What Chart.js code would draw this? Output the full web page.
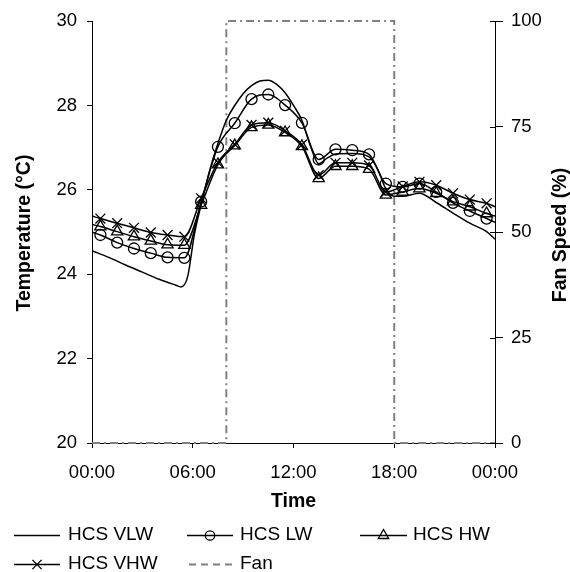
<!DOCTYPE html>
<html>
<head>
<meta charset="utf-8">
<script src="https://cdn.jsdelivr.net/npm/chart.js@4.4.1/dist/chart.umd.min.js"></script>
<style>
  html, body { margin: 0; padding: 0; background: #fff; }
  canvas { display: block; }
</style>
</head>
<body>
<canvas id="chart" width="570" height="572"></canvas>
<script>
// Hours of day for the marked series (markers on the half hours, line ends at 00:00 and 24:00)
const markerHours = [0, 0.5, 1.5, 2.5, 3.5, 4.5, 5.5, 6.5, 7.5, 8.5, 9.5, 10.5, 11.5, 12.5,
                     13.5, 14.5, 15.5, 16.5, 17.5, 18.5, 19.5, 20.5, 21.5, 22.5, 23.5, 24];

// Room temperature (°C) for each heavy-weight construction case
const lwTemps  = [25.00, 24.93, 24.75, 24.61, 24.50, 24.40, 24.39, 25.72, 27.02, 27.58, 28.15, 28.26, 28.01,
                  27.59, 26.72, 26.96, 26.94, 26.84, 26.15, 26.07, 26.15, 25.95, 25.69, 25.50, 25.32, 25.23];
const hwTemps  = [25.18, 25.13, 25.01, 24.89, 24.79, 24.70, 24.69, 25.64, 26.60, 27.05, 27.48, 27.54, 27.36,
                  27.03, 26.27, 26.56, 26.56, 26.49, 25.88, 25.95, 26.03, 25.92, 25.72, 25.60, 25.44, 25.38];
const vhwTemps = [25.38, 25.32, 25.21, 25.10, 24.99, 24.93, 24.89, 25.80, 26.65, 27.08, 27.54, 27.59, 27.40,
                  27.07, 26.35, 26.64, 26.64, 26.58, 25.95, 26.08, 26.19, 26.11, 25.92, 25.77, 25.68, 25.60];

// The very-light-weight case is a plain line
const vlwHours = [0, 1, 2, 3, 4, 5, 5.3, 5.7, 6.1, 6.5, 7, 7.5, 8, 8.5, 9, 9.5, 10, 10.5, 11, 11.5, 12, 12.5,
                  13, 13.5, 14, 14.5, 15.5, 16.5, 17, 17.5, 18, 18.5, 19.5, 20.5, 21.5, 22.5, 23.5, 24];
const vlwTemps = [24.56, 24.40, 24.22, 24.05, 23.88, 23.74, 23.70, 23.95, 24.95, 25.65, 26.45, 27.10, 27.65,
                  28.00, 28.28, 28.47, 28.58, 28.60, 28.50, 28.30, 28.00, 27.65, 27.05, 26.62, 26.75, 26.85,
                  26.86, 26.78, 26.50, 26.02, 25.85, 25.85, 25.92, 25.70, 25.45, 25.21, 25.01, 24.83];

// Fan speed (%) schedule
const fanHours = [0, 8, 8, 18, 18, 24];
const fanSpeed = [0, 0, 100, 100, 0, 0];

// Axis tick labels
const xTickLabels = ['00:00', '06:00', '12:00', '18:00', '00:00'];

const FONT = '"Liberation Sans", Arial, Helvetica, sans-serif';
const FAN_GREY = '#808080';
const FAN_DASH = [8, 4, 2, 4];

const pts = (xs, ys) => xs.map((x, i) => ({ x: x, y: ys[i] }));
const endless = r => ctx => (ctx.dataIndex === 0 || ctx.dataIndex === markerHours.length - 1) ? 0 : r;

function markedSeries(label, temps, style, r) {
  return {
    label: label,
    data: pts(markerHours, temps),
    yAxisID: 'y',
    borderColor: '#000',
    borderWidth: 1.5,
    cubicInterpolationMode: 'monotone',
    pointStyle: style,
    pointRadius: endless(r),
    pointHoverRadius: endless(r),
    pointBorderColor: '#000',
    pointBackgroundColor: 'rgba(0,0,0,0)',
    pointBorderWidth: 1.3
  };
}

// Marker glyphs for the legend
function glyph(ctx, style, x, y, r) {
  ctx.beginPath();
  if (style === 'circle') {
    ctx.arc(x, y, r, 0, Math.PI * 2);
  } else if (style === 'triangle') {
    ctx.moveTo(x, y - r);
    ctx.lineTo(x + r * Math.sin(Math.PI / 3), y + r / 2);
    ctx.lineTo(x - r * Math.sin(Math.PI / 3), y + r / 2);
    ctx.closePath();
  } else if (style === 'crossRot') {
    const d = r * Math.SQRT1_2;
    ctx.moveTo(x - d, y - d); ctx.lineTo(x + d, y + d);
    ctx.moveTo(x - d, y + d); ctx.lineTo(x + d, y - d);
  }
  ctx.stroke();
}

const legendItems = [
  { text: 'HCS VLW', x1: 14, x2: 60,  tx: 68,  row: 0, style: null },
  { text: 'HCS LW',  x1: 187, x2: 233, tx: 240, row: 0, style: 'circle', r: 4.7 },
  { text: 'HCS HW',  x1: 360, x2: 407, tx: 413, row: 0, style: 'triangle', r: 6 },
  { text: 'HCS VHW', x1: 14, x2: 60,  tx: 68,  row: 1, style: 'crossRot', r: 6.5 },
  { text: 'Fan',     x1: 189, x2: 233, tx: 240, row: 1, fan: true }
];
const legendRows = [535, 564];

const decorations = {
  id: 'decorations',
  afterDraw(chart) {
    const ctx = chart.ctx;
    const y2 = chart.scales.y2;
    ctx.save();

    // inner half of the secondary-axis tick marks
    ctx.strokeStyle = '#000';
    ctx.lineWidth = 1;
    y2.ticks.forEach(t => {
      const py = Math.round(y2.getPixelForValue(t.value)) + 0.5;
      ctx.beginPath();
      ctx.moveTo(y2.left - 5, py);
      ctx.lineTo(y2.left, py);
      ctx.stroke();
    });

    // axis titles
    ctx.fillStyle = '#000';
    ctx.font = 'bold 19.5px ' + FONT;
    ctx.textAlign = 'center';
    ctx.textBaseline = 'middle';
    const area = chart.chartArea;
    ctx.fillText('Time', (area.left + area.right) / 2, 502);

    ctx.save();
    ctx.translate(25, (area.top + area.bottom) / 2 + 1);
    ctx.rotate(-Math.PI / 2);
    ctx.fillText('Temperature (°C)', 0, 0);
    ctx.restore();

    ctx.save();
    ctx.translate(561, (area.top + area.bottom) / 2 + 3);
    ctx.rotate(-Math.PI / 2);
    ctx.fillText('Fan Speed (%)', 0, 0);
    ctx.restore();

    // legend
    ctx.font = '19px ' + FONT;
    ctx.textAlign = 'left';
    legendItems.forEach(it => {
      const y = legendRows[it.row];
      ctx.beginPath();
      if (it.fan) {
        ctx.strokeStyle = FAN_GREY;
        ctx.lineWidth = 2;
        ctx.setLineDash([7, 5]);
      } else {
        ctx.strokeStyle = '#000';
        ctx.lineWidth = 1.5;
        ctx.setLineDash([]);
      }
      ctx.moveTo(it.x1, y + 0.5);
      ctx.lineTo(it.x2, y + 0.5);
      ctx.stroke();
      ctx.setLineDash([]);
      if (it.style) {
        ctx.strokeStyle = '#000';
        ctx.lineWidth = 1.3;
        glyph(ctx, it.style, (it.x1 + it.x2) / 2, y + 0.5, it.r);
      }
      ctx.fillStyle = '#000';
      ctx.fillText(it.text, it.tx, y);
    });

    ctx.restore();
  }
};

new Chart(document.getElementById('chart'), {
  type: 'line',
  data: {
    datasets: [
      {
        label: 'HCS VLW',
        data: pts(vlwHours, vlwTemps),
        yAxisID: 'y',
        borderColor: '#000',
        borderWidth: 1.5,
        cubicInterpolationMode: 'monotone',
        pointRadius: 0,
        pointHoverRadius: 0
      },
      markedSeries('HCS LW', lwTemps, 'circle', 5.5),
      markedSeries('HCS HW', hwTemps, 'triangle', 6.5),
      markedSeries('HCS VHW', vhwTemps, 'crossRot', 7),
      {
        label: 'Fan',
        data: pts(fanHours, fanSpeed),
        yAxisID: 'y2',
        borderColor: FAN_GREY,
        borderWidth: 2,
        borderDash: FAN_DASH,
        tension: 0,
        pointRadius: 0,
        pointHoverRadius: 0,
        clip: false
      }
    ]
  },
  options: {
    responsive: false,
    animation: false,
    devicePixelRatio: 1,
    events: [],
    layout: { padding: { top: 21, left: 0, right: 0, bottom: 0 } },
    plugins: {
      legend: { display: false },
      tooltip: { enabled: false },
      title: { display: false }
    },
    scales: {
      x: {
        type: 'linear',
        position: 'bottom',
        min: 0,
        max: 24,
        ticks: {
          stepSize: 6,
          autoSkip: false,
          maxRotation: 0,
          padding: 14,
          color: '#000',
          font: { family: FONT, size: 18.5 },
          callback: (v, i) => xTickLabels[i]
        },
        grid: { drawOnChartArea: false, tickLength: 5, tickColor: '#000', color: '#000' },
        border: { display: true, color: '#000', width: 1 },
        afterFit: s => { s.height = 129; }
      },
      y: {
        type: 'linear',
        position: 'left',
        min: 20,
        max: 30,
        ticks: {
          stepSize: 2,
          padding: 10,
          color: '#000',
          font: { family: FONT, size: 18.5 }
        },
        grid: { drawOnChartArea: false, tickLength: 5, tickColor: '#000', color: '#000' },
        border: { display: true, color: '#000', width: 1 },
        afterFit: s => { s.width = 92; }
      },
      y2: {
        type: 'linear',
        position: 'right',
        min: 0,
        max: 100,
        ticks: {
          stepSize: 25,
          padding: 8,
          color: '#000',
          font: { family: FONT, size: 18.5 }
        },
        grid: { drawOnChartArea: false, tickLength: 8, tickColor: '#000', color: '#000' },
        border: { display: true, color: '#000', width: 1 },
        afterFit: s => { s.width = 75; }
      }
    }
  },
  plugins: [decorations]
});
</script>
</body>
</html>
